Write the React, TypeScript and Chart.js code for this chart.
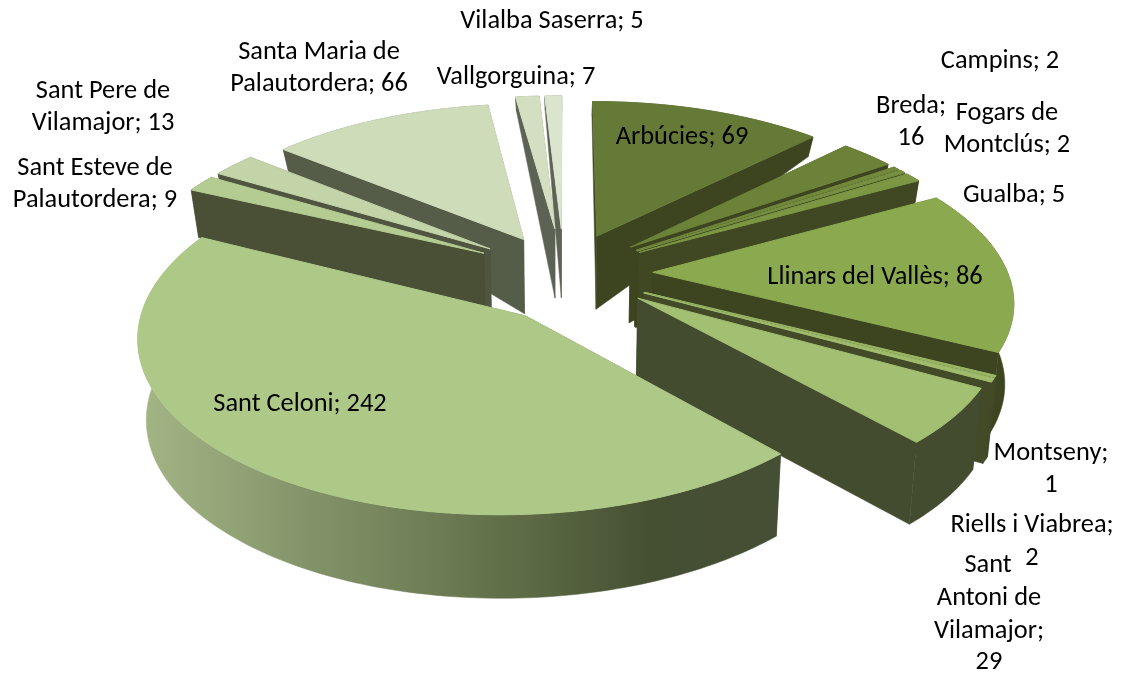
import React, { useEffect, useRef } from "react";
import { Chart, registerables } from "chart.js";

Chart.register(...registerables);

const categories = ["Arbúcies","Breda","Campins","Fogars de Montclús","Gualba","Llinars del Vallès","Montseny","Riells i Viabrea","Sant Antoni de Vilamajor","Sant Celoni","Sant Esteve de Palautordera","Sant Pere de Vilamajor","Santa Maria de Palautordera","Vallgorguina","Vilalba Saserra"];
const values = [69,16,2,2,5,86,1,2,29,242,9,13,66,7,5];
const topColors = ["#667a38","#6c8239","#71883d","#768f40","#7c9643","#8ba94f","#9ab764","#9fbb6b","#a3bf72","#aec888","#b4cb91","#c3d4a9","#cfdcb9","#d3dfc0","#dbe4cd"];
const wallColors = ["#3c4520","#3c4520","#3c4520","#3c4520","#3f4822","#3c4520","#424a28","#424a28","#434c2e","#45503a","#4a5035","#4f5540","#555c48","#5c6254","#5e6455"];
const explode = [25,25,25,25,25,25,25,25,24,25,26,26,24,28,28];
const apexNudgeU = [0,0,0,0,0,0,0,0,0.015,0.045,0,0,0,0,0];
const apexNudgeV = [0,0,0,0,0,0,0,0,0,-0.05,0,0,0,0,0];
const labelLines = [["Arbúcies; 69"],["Breda;","16"],["Campins; 2"],["Fogars de","Montclús; 2"],["Gualba; 5"],["Llinars del Vallès; 86"],["Montseny;","1"],["Riells i Viabrea;"],["2"],["Sant"],["Antoni de"],["Vilamajor;"],["29"],["Sant Celoni; 242"],["Sant Esteve de","Palautordera; 9"],["Sant Pere de","Vilamajor; 13"],["Santa Maria de","Palautordera; 66"],["Vallgorguina; 7"],["Vilalba Saserra; 5"]];
const labelX = [682,911,1000,1007,1014,875,1051,1032,1032,988,989,989,989,300,95,103,319,516,552];
const labelY = [137,106,61,113,195,277,453,525,558,565,598,631,662,404,168,91,52,77,21];

const CX = 564, CY = 273, RX = 355, RY = 165, K = 0.15;
const DEPTH_V = [1.4,0.87,0.54,0.22,0,-0.9,-1.3];
const DEPTH_D = [12,21,48,74,80,82,84];

function depth(v: number) {
  if (v >= DEPTH_V[0]) return DEPTH_D[0];
  for (let i = 1; i < DEPTH_V.length; i++) {
    if (v >= DEPTH_V[i]) {
      const t = (DEPTH_V[i-1]-v)/(DEPTH_V[i-1]-DEPTH_V[i]);
      return DEPTH_D[i-1]+t*(DEPTH_D[i]-DEPTH_D[i-1]);
    }
  }
  return DEPTH_D[DEPTH_D.length-1];
}
function topPt(u: number, v: number): [number, number] {
  const w = 1/(1+K*v);
  return [CX+RX*u*w, CY-RY*v*w];
}
function botPt(u: number, v: number): [number, number] {
  const [x,y] = topPt(u,v);
  return [CX+(x-CX)*0.98, y+depth(v)];
}
function poly(ctx: CanvasRenderingContext2D, pts: [number,number][], fill: any, lw = 0.5) {
  ctx.beginPath();
  pts.forEach((p,i)=> i ? ctx.lineTo(p[0],p[1]) : ctx.moveTo(p[0],p[1]));
  ctx.closePath();
  ctx.fillStyle = fill;
  ctx.strokeStyle = fill;
  ctx.lineWidth = lw;
  ctx.fill();
  ctx.stroke();
}

const pie3d = {
  id: "pie3d",
  beforeDatasetsDraw(chart: any) {
    const ctx: CanvasRenderingContext2D = chart.ctx;
    const meta = chart.getDatasetMeta(0);
    const slices = meta.data.map((el: any, i: number) => {
      const a0 = el.startAngle + Math.PI/2, a1 = el.endAngle + Math.PI/2;
      const mid = (a0+a1)/2;
      const e = el.options.offset/100;
      return { i, a0, a1, mid, e, top: el.options.backgroundColor };
    });
    slices.sort((a: any,b: any)=> Math.cos(b.mid)-Math.cos(a.mid));
    for (const s of slices) {
      const u0 = s.e*Math.sin(s.mid), v0 = s.e*Math.cos(s.mid);
      const ua = u0+apexNudgeU[s.i], va = v0+apexNudgeV[s.i];
      const n = Math.max(2, Math.ceil((s.a1-s.a0)/0.02));
      const arc: [number,number][] = [];
      for (let j=0;j<=n;j++){ const a=s.a0+(s.a1-s.a0)*j/n; arc.push([u0+Math.sin(a), v0+Math.cos(a)]); }
      const at = arc.map(p=>topPt(p[0],p[1]));
      const ab = arc.map(p=>botPt(p[0],p[1]));
      const wall = wallColors[s.i];
      poly(ctx,[topPt(ua,va),at[0],ab[0],botPt(ua,va)],wall);
      poly(ctx,[topPt(ua,va),at[n],ab[n],botPt(ua,va)],wall);
      let fill: any = wall;
      if (categories[s.i]==="Sant Celoni") {
        const g = ctx.createLinearGradient(140,0,780,0);
        g.addColorStop(0,"#a3b585"); g.addColorStop(0.25,"#85956b"); g.addColorStop(0.48,"#6b7a52"); g.addColorStop(0.66,"#56633f"); g.addColorStop(0.8,"#454f32"); g.addColorStop(1,"#464f35");
        fill = g;
      }
      poly(ctx,[...at,...ab.slice().reverse()],fill);
      poly(ctx,[topPt(ua,va),...at],s.top,1);
    }
    return false;
  },
  afterDraw(chart: any) {
    const ctx: CanvasRenderingContext2D = chart.ctx;
    ctx.save();
    ctx.fillStyle = "#000";
    ctx.font = '26.4px Carlito, Lato, sans-serif';
    ctx.textAlign = "center";
    ctx.textBaseline = "middle";
    labelLines.forEach((lines,i)=>{
      lines.forEach((t,j)=> ctx.fillText(t,labelX[i],labelY[i]+j*32.3));
    });
    ctx.restore();
  },
};

export default function App() {
  const ref = useRef<HTMLCanvasElement>(null);
  useEffect(()=>{
    const chart = new Chart(ref.current!, {
      type: "pie",
      data: { labels: categories, datasets: [{ data: values, backgroundColor: topColors, offset: explode, borderWidth: 0 }] },
      options: {
        animation: false, responsive: false,
        layout: { padding: 0 },
        plugins: { legend: { display: false }, tooltip: { enabled: false }, title: { display: false } },
      },
      plugins: [pie3d],
    } as any);
    return ()=>chart.destroy();
  },[]);
  return <canvas ref={ref} width={1125} height={675} style={{position:"fixed",left:0,top:0,width:1125,height:675,background:"#fff"}} />;
}
